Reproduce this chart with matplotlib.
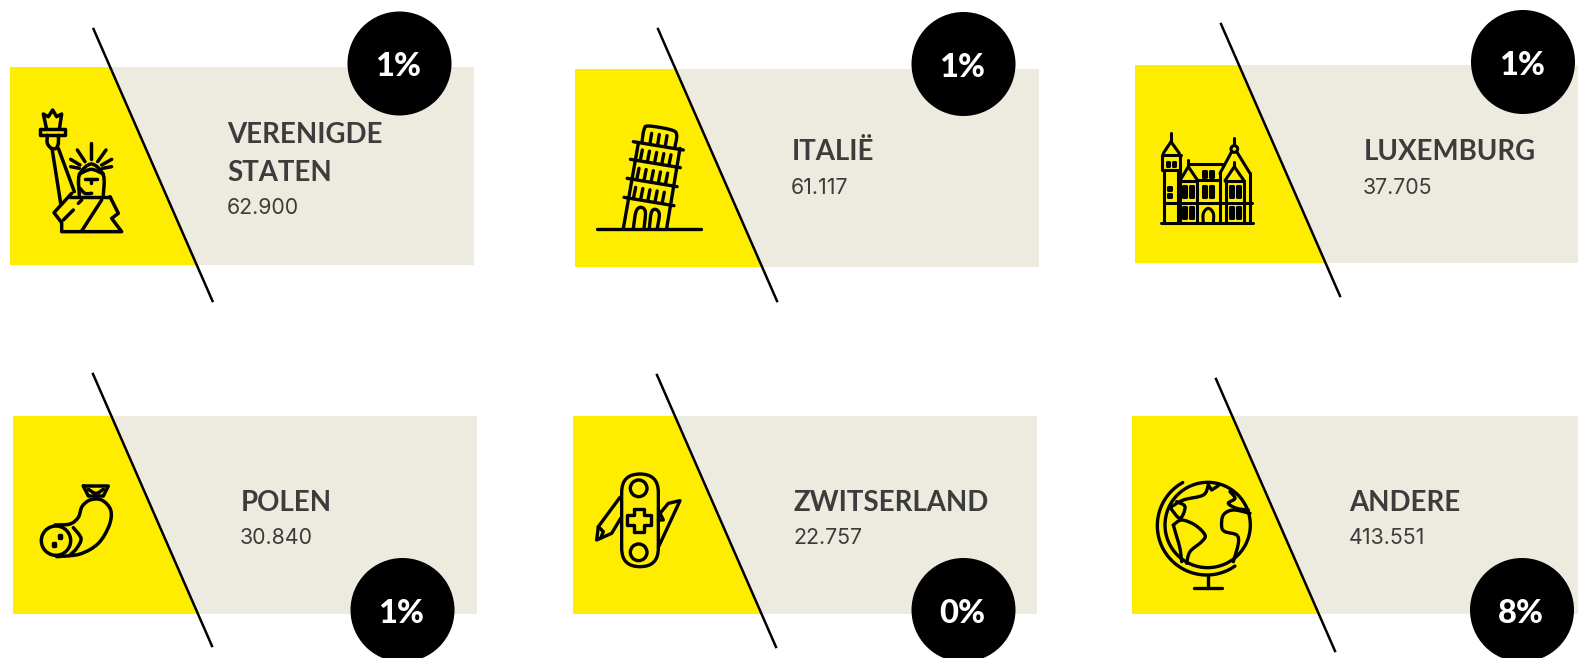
import numpy as np
import matplotlib
matplotlib.use("Agg")
import matplotlib.pyplot as plt
from matplotlib.path import Path
from matplotlib.patches import Circle, Polygon, PathPatch, Rectangle, FancyBboxPatch

plt.rcParams["font.family"] = ["Lato", "DejaVu Sans"]

# data
countries = ["VERENIGDE\nSTATEN", "ITALIË", "LUXEMBURG", "POLEN", "ZWITSERLAND", "ANDERE"]
values = ["62.900", "61.117", "37.705", "30.840", "22.757", "413.551"]
shares = ["1%", "1%", "1%", "1%", "0%", "8%"]

# layout, in reference pixels
panel_x = [10, 575, 1135, 13, 573, 1132]
panel_top = [67, 69, 65, 416, 416, 416]
PANEL_W, PANEL_H = 464, 198
slash_x = [93.5, 658, 1221, 93, 657, 1216]
slash_y = [29, 29, 24, 374, 375, 379]
SLASH_DX, SLASH_DY = 119, 272
circle_x = [399.5, 963.5, 1523, 402.5, 963.5, 1522]
circle_y = [63.5, 64, 62, 610, 610, 610]
text_x = [227.5, 792, 1363.5, 241, 794, 1349.5]
title_base = [143, 160, 160, 511, 511, 511]
YELLOW, BEIGE, INK = "#FFED00", "#EDEBE0", "#3C3C3C"

fig = plt.figure(figsize=(15.78, 6.58), dpi=100)
ax = fig.add_axes([0, 0, 1, 1])
ax.set_xlim(0, 1578); ax.set_ylim(658, 0); ax.axis("off")


def smooth_path(pts):
    # catmull-rom through the points, as beziers
    p = np.array(pts, float)
    q = np.vstack([p[0], p, p[-1]])
    verts = [p[0]]; codes = [Path.MOVETO]
    for i in range(1, len(q) - 2):
        verts += [q[i] + (q[i + 1] - q[i - 1]) / 6, q[i + 1] - (q[i + 2] - q[i]) / 6, q[i + 1]]
        codes += [Path.CURVE4] * 3
    return Path(verts, codes)


class Icon:
    # draws in the 3x zoom coordinates of a crop that starts at ox, oy
    def __init__(self, ox, oy, lw=2.4):
        self.ox, self.oy, self.lw = ox, oy, lw

    def xy(self, pts):
        return np.array(pts, float) / 3 + [self.ox, self.oy]

    def line(self, *pts):
        a = self.xy(pts)
        ax.plot(a[:, 0], a[:, 1], color="k", lw=self.lw, solid_capstyle="round",
                solid_joinstyle="round", zorder=5)

    def curve(self, *pts):
        ax.add_patch(PathPatch(smooth_path(self.xy(pts)), fc="none", ec="k", lw=self.lw,
                               capstyle="round", joinstyle="round", zorder=5))

    def arc(self, cx, cy, r, a0, a1):
        t = np.radians(np.linspace(a0, a1, 60))
        self.line(*zip(cx + r * np.cos(t), cy + r * np.sin(t)))

    def ring(self, x, y, r):
        c = self.xy([(x, y)])[0]
        ax.add_patch(Circle(c, r / 3, fc="none", ec="k", lw=self.lw, zorder=5))

    def box(self, x0, y0, x1, y1, fill="none"):
        a = self.xy([(x0, y0), (x1, y1)])
        ax.add_patch(Rectangle(a[0], *(a[1] - a[0]), fc=fill, ec="k", lw=self.lw,
                               joinstyle="round", zorder=5))


def statue():
    i = Icon(30, 100, 2.5)
    i.line((50, 88), (40, 42), (55, 50), (68, 30), (80, 50), (95, 42), (88, 88))
    i.box(30, 88, 104, 106)
    i.curve((52, 106), (52, 130), (64, 145), (78, 145), (85, 130), (85, 106))
    i.line((66, 145), (92, 310)); i.line((85, 145), (133, 275))
    i.curve((148, 285), (148, 225), (184, 192), (220, 225), (220, 285))
    i.curve((148, 222), (184, 208), (220, 222))
    i.line((165, 236), (200, 236)); i.line((182, 236), (182, 248))
    i.curve((150, 265), (165, 280), (185, 280))
    for a, b in [((183, 130), (183, 178)), ((142, 150), (165, 185)), ((228, 150), (203, 185)),
                 ((122, 178), (150, 195)), ((245, 178), (215, 195)), ((122, 200), (148, 205)),
                 ((245, 200), (218, 205))]:
        i.line(a, b)
    i.line((120, 290), (240, 290))
    i.line((125, 280), (72, 338), (95, 368), (95, 395), (275, 395), (245, 355), (265, 340), (240, 290))
    i.line((215, 300), (155, 393)); i.line((155, 300), (145, 310)); i.line((130, 330), (100, 360))


def tower():
    i = Icon(570, 90, 2.4)
    i.line((82, 418), (392, 418))
    i.line((160, 415), (205, 160)); i.line((290, 415), (330, 175))
    i.curve((216, 155), (222, 120), (235, 108), (305, 120), (320, 135), (315, 170))
    for y0 in [155, 208, 265, 322]:
        x0 = 190 - (y0 - 155) * 0.168
        i.line((x0, y0), (x0 + 150, y0 + 25))
    for k in range(3):
        i.line((245 + k * 23, 130 + k * 3.5), (240 + k * 23, 160 + k * 3.5))
    for x0, y0 in [(217, 180), (207, 235), (197, 292)]:
        for k in range(5):
            i.line((x0 + k * 21.5, y0 + k * 3.6), (x0 - 6 + k * 21.5, y0 + 30 + k * 3.6))
    i.curve((190, 415), (198, 365), (212, 352), (226, 365), (222, 415))
    i.curve((238, 415), (244, 368), (256, 358), (268, 372), (262, 415))


def castle():
    i = Icon(1140, 110, 2.2)
    i.line((62, 340), (338, 340))
    i.line((72, 340), (72, 180)); i.line((115, 340), (115, 180))
    i.line((93, 68), (93, 95)); i.line((70, 130), (93, 95), (118, 130))
    i.line((65, 135), (122, 135)); i.line((65, 135), (65, 180), (120, 180)); i.line((120, 135), (120, 210))
    i.box(82, 155, 88, 168, "k"); i.box(100, 155, 106, 168, "k")
    i.box(85, 230, 92, 240, "k"); i.box(85, 252, 92, 262, "k")
    i.line((72, 278), (335, 278))
    i.line((145, 150), (145, 170)); i.line((118, 215), (145, 170), (172, 210))
    i.line((118, 212), (172, 212)); i.line((150, 162), (250, 162)); i.line((172, 210), (240, 210))
    i.line((283, 85), (283, 105)); i.ring(283, 117, 10)
    i.line((240, 190), (275, 125)); i.line((290, 125), (330, 190))
    i.line((283, 155), (283, 170)); i.line((255, 212), (283, 170), (312, 212)); i.line((255, 212), (312, 212))
    i.line((330, 190), (330, 340)); i.line((240, 190), (240, 340))
    i.line((170, 215), (170, 340)); i.line((120, 212), (120, 340)); i.line((258, 212), (258, 340)); i.line((312, 212), (312, 340))
    for x0, x1 in [(130, 150), (190, 210), (270, 290)]:
        for x in (x0, x1):
            i.box(x, 228, x + 9, 262)
    for x0, x1 in [(130, 150), (270, 290)]:
        for x in (x0, x1):
            i.box(x, 290, x + 9, 325)
    i.box(190, 182, 198, 200); i.box(210, 182, 218, 200)
    i.curve((190, 340), (190, 310), (205, 295), (220, 310), (220, 340))


def sausage():
    i = Icon(20, 460, 2.5)
    i.ring(108, 242, 44)
    i.box(116, 225, 124, 233, "k"); i.box(98, 250, 106, 258, "k")
    i.curve((160, 203), (183, 235), (170, 265), (150, 285))
    i.curve((105, 195), (150, 192), (175, 172), (186, 140), (210, 120), (245, 120), (272, 150),
            (268, 195), (235, 250), (180, 282), (110, 290))
    i.line((190, 78), (265, 78), (250, 108), (205, 108), (190, 78))
    i.curve((205, 88), (228, 100), (250, 88))


def knife():
    i = Icon(580, 460, 2.4)
    a = i.xy([(125, 42), (235, 320)])
    r = 55 / 3
    ax.add_patch(FancyBboxPatch(a[0] + r, *(a[1] - a[0] - 2 * r), boxstyle=f"round,pad={r}",
                                fc="none", ec="k", lw=2.4, zorder=5))
    i.ring(176, 85, 25); i.ring(176, 277, 25)
    i.line((162, 146), (192, 146), (192, 165), (214, 165), (214, 195), (192, 195), (192, 215),
           (162, 215), (162, 195), (142, 195), (142, 165), (162, 165), (162, 146))
    i.line((120, 112), (55, 200), (50, 240), (95, 220), (122, 175))
    i.line((55, 200), (70, 215), (62, 235))
    i.line((235, 180), (250, 180), (240, 160), (265, 130), (300, 122), (235, 262))


def globe():
    i = Icon(1140, 465, 2.4)
    i.ring(203, 180, 128)
    i.arc(200, 182, 148, 241, 55)
    i.line((203, 330), (203, 370)); i.line((162, 370), (245, 370))
    i.curve((100, 180), (125, 165), (165, 180), (195, 210), (185, 230), (150, 260), (140, 295))
    i.curve((100, 180), (110, 215), (120, 250), (125, 290))
    i.curve((90, 128), (130, 105), (190, 90), (205, 60))
    i.line((205, 60), (215, 75), (235, 62))
    i.curve((92, 130), (120, 160), (135, 125), (110, 110))
    i.curve((330, 145), (280, 135), (250, 150), (245, 185), (255, 200), (290, 210), (295, 235), (280, 290))
    i.curve((270, 80), (285, 100), (265, 115), (290, 130), (325, 135))


for n in range(6):
    x, top = panel_x[n], panel_top[n]
    bot = top + PANEL_H
    sx, sy = slash_x[n], slash_y[n]
    at = lambda y: sx + (y - sy) * SLASH_DX / SLASH_DY
    ax.add_patch(Rectangle((x, top), PANEL_W, PANEL_H, fc=BEIGE, ec="none", zorder=1))
    ax.add_patch(Polygon([(x, top), (at(top), top), (at(bot), bot), (x, bot)], fc=YELLOW, ec="none", zorder=2))
    ax.plot([sx, sx + SLASH_DX], [sy, sy + SLASH_DY], color="k", lw=1.8, zorder=3)
    ax.add_patch(Circle((circle_x[n], circle_y[n]), 52, fc="k", ec="none", zorder=4))
    ax.text(circle_x[n] - 1, circle_y[n] + 13, shares[n], color="w", fontsize=23.5, fontweight="black",
            ha="center", va="baseline", zorder=6)
    lines = countries[n].split("\n")
    for k, s in enumerate(lines):
        ax.text(text_x[n], title_base[n] + k * 38, s, color=INK, fontsize=19.9, fontweight="bold",
                ha="left", va="baseline", zorder=6)
    ax.text(text_x[n] - 1, title_base[n] + (len(lines) - 1) * 38 + 33.5, values[n], color=INK, fontsize=15.4,
            family=["Inter", "DejaVu Sans"], ha="left", va="baseline", zorder=6)

statue(); tower(); castle(); sausage(); knife(); globe()

fig.savefig("out.png", dpi=100)
